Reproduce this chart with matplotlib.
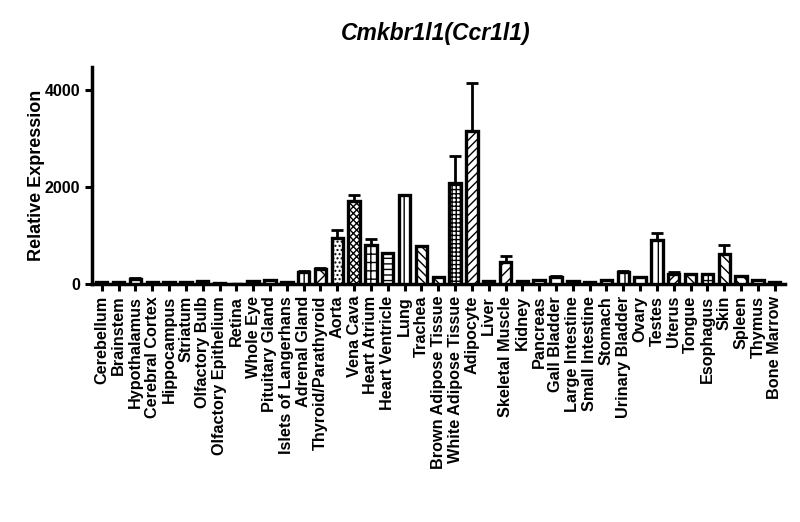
import matplotlib
matplotlib.use("Agg")
import matplotlib.pyplot as plt
import numpy as np

# tissues along the x axis
tissues = ["Cerebellum", "Brainstem", "Hypothalamus", "Cerebral Cortex", "Hippocampus",
           "Striatum", "Olfactory Bulb", "Olfactory Epithelium", "Retina", "Whole Eye",
           "Pituitary Gland", "Islets of Langerhans", "Adrenal Gland", "Thyroid/Parathyroid",
           "Aorta", "Vena Cava", "Heart Atrium", "Heart Ventricle", "Lung", "Trachea",
           "Brown Adipose Tissue", "White Adipose Tissue", "Adipocyte", "Liver",
           "Skeletal Muscle", "Kidney", "Pancreas", "Gall Bladder", "Large Intestine",
           "Small Intestine", "Stomach", "Urinary Bladder", "Ovary", "Testes", "Uterus",
           "Tongue", "Esophagus", "Skin", "Spleen", "Thymus", "Bone Marrow"]

# mean relative expression
means = [50, 45, 110, 35, 45, 50, 60, 25, 5, 70, 85, 50, 240, 300,
         950, 1720, 800, 640, 1830, 790, 140, 2080, 3150, 60,
         460, 55, 90, 150, 60, 40, 75, 240, 140, 900, 200,
         210, 200, 620, 170, 75, 35]

# upper error (sem)
errs = [0, 0, 10, 0, 0, 0, 0, 0, 0, 0, 0, 0, 20, 20,
        170, 110, 120, 0, 0, 0, 0, 570, 1000, 0,
        110, 0, 0, 20, 0, 0, 0, 20, 0, 150, 50,
        0, 0, 180, 0, 0, 0]

# fill pattern per bar
hatches = ["", "", "", "", "", "", "", "", "", "", "", "", "||", "xx",
           "....", "xxxxx", "++", "---", "||", "\\\\\\\\", "\\\\\\", "++++", "////", "",
           "///", "", "", "", "", "", "", "|", "", "|", "////",
           "\\\\\\", "+++", "\\\\\\", "\\\\\\", "", ""]

plt.rcParams["font.family"] = ["Liberation Sans", "DejaVu Sans"]
plt.rcParams["font.weight"] = "bold"
plt.rcParams["hatch.linewidth"] = 1.0

fig = plt.figure(figsize=(8, 5.22), dpi=100)
ax = fig.add_axes([0.115, 0.456, 0.866, 0.416])

x = np.arange(len(tissues))
ax.bar(x, means, width=0.68, color="white", edgecolor="black", linewidth=2.4,
       hatch=hatches, zorder=3)
ax.errorbar(x, means, yerr=[np.zeros(len(errs)), errs], fmt="none", ecolor="black",
            elinewidth=2.0, capsize=4, capthick=2.0, zorder=2)

ax.set_xlim(-0.58, 40.6)
ax.set_ylim(0, 4480)
ax.set_yticks([0, 2000, 4000])
ax.set_xticks(x)
ax.set_xticklabels(tissues, rotation=90, fontsize=11.7, fontweight="bold")
ax.tick_params(axis="y", labelsize=11.5, width=2.2, length=5)
ax.tick_params(axis="x", width=2.2, length=5)
for lab in ax.get_yticklabels():
    lab.set_fontweight("bold")

ax.spines["top"].set_visible(False)
ax.spines["right"].set_visible(False)
ax.spines["left"].set_linewidth(2.5)
ax.spines["bottom"].set_linewidth(2.5)

ax.set_ylabel("Relative Expression", fontsize=13, fontweight="bold", labelpad=0)
fig.text(0.544, 0.935, "Cmkbr1l1(Ccr1l1)", ha="center", va="center",
         fontsize=16.5, fontweight="bold", fontstyle="italic")

fig.savefig("out.png", dpi=100)
